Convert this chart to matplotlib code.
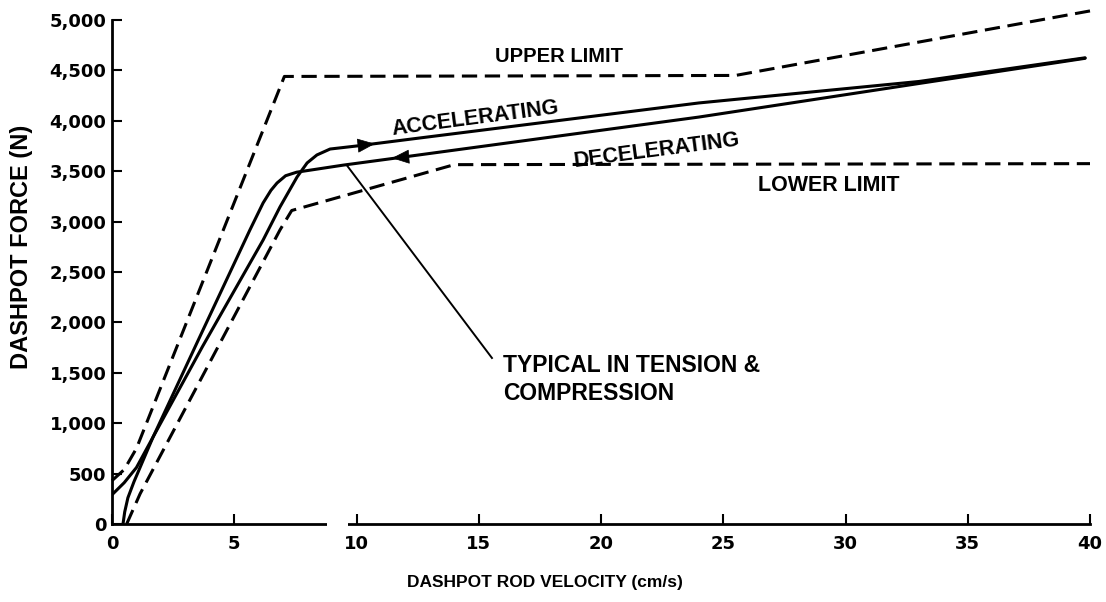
import matplotlib
matplotlib.use("Agg")
import matplotlib.pyplot as plt
from matplotlib.patches import Rectangle
from matplotlib.ticker import FuncFormatter

plt.rcParams['font.family'] = ['Liberation Sans', 'DejaVu Sans']
plt.rcParams['font.weight'] = 'bold'

# dashpot rod velocity (cm/s) vs dashpot force (N)
accel_v = [0.45, 0.52, 0.65, 0.9, 1.68, 3.7, 6.18, 6.87, 7.57, 7.98, 8.38, 8.92, 10.0, 12.6, 24.0, 33.0, 39.8]
accel_f = [0, 120, 260, 420, 863, 1760, 2817, 3145, 3443, 3582, 3661, 3720, 3750, 3830, 4177, 4390, 4625]

decel_v = [0.0, 0.5, 1.0, 1.68, 3.5, 5.64, 6.18, 6.5, 6.75, 7.1, 7.55, 9.45, 11.9, 24.0, 33.0, 39.8]
decel_f = [290, 410, 560, 863, 1810, 2917, 3185, 3310, 3383, 3455, 3490, 3560, 3640, 4037, 4370, 4620]

upper_v = [0.0, 0.5, 1.0, 7.05, 25.5, 40.0]
upper_f = [430, 540, 750, 4440, 4450, 5090]

lower_v = [0.6, 1.15, 6.87, 7.35, 14.0, 40.0]
lower_f = [0, 300, 2917, 3110, 3565, 3575]

x_ticks = [0, 5, 10, 15, 20, 25, 30, 35, 40]
y_ticks = list(range(0, 5001, 500))

fig = plt.figure(figsize=(11.06, 6.02), dpi=100)
ax = fig.add_axes([112 / 1106, 78 / 602, 978 / 1106, 504 / 602])

dash = (0, (5, 2.5))
ax.plot(upper_v, upper_f, color='k', lw=2.2, linestyle=dash, clip_on=False)
ax.plot(lower_v, lower_f, color='k', lw=2.2, linestyle=dash)
ax.plot(accel_v, accel_f, color='k', lw=2.2, solid_capstyle='round')
ax.plot(decel_v, decel_f, color='k', lw=2.2, solid_capstyle='round')

# direction arrows on the curves
head = '-|>,head_length=1.15,head_width=0.47'
ax.annotate('', xy=(10.75, 3772), xytext=(10.0, 3752),
            arrowprops=dict(arrowstyle=head, color='k', lw=0.5, shrinkA=0, shrinkB=0, mutation_scale=10))
ax.annotate('', xy=(11.45, 3630), xytext=(12.2, 3645),
            arrowprops=dict(arrowstyle=head, color='k', lw=0.5, shrinkA=0, shrinkB=0, mutation_scale=10))

# leader line to the note
ax.plot([9.6, 15.54], [3560, 1647], color='k', lw=1.4)

ax.text(18.3, 4633, 'UPPER LIMIT', fontsize=14.5, ha='center', va='center')
ax.text(14.85, 4020, 'ACCELERATING', fontsize=15.5, ha='center', va='center', rotation=7.5)
ax.text(22.3, 3700, 'DECELERATING', fontsize=15.5, ha='center', va='center', rotation=7.5)
ax.text(29.3, 3363, 'LOWER LIMIT', fontsize=15.5, ha='center', va='center')
ax.text(15.99, 1690, 'TYPICAL IN TENSION &\nCOMPRESSION', fontsize=16.5,
        ha='left', va='top', linespacing=1.3)

ax.set_xlim(0, 40)
ax.set_ylim(0, 5000)
ax.set_xticks(x_ticks)
ax.set_yticks(y_ticks)
ax.yaxis.set_major_formatter(FuncFormatter(lambda v, pos: '{:,.0f}'.format(v)))

for s in ['top', 'right']:
    ax.spines[s].set_visible(False)
for s in ['left', 'bottom']:
    ax.spines[s].set_linewidth(2.0)

ax.tick_params(direction='in', length=7, width=1.5, labelsize=13)
ax.tick_params(axis='x', pad=8)
ax.tick_params(axis='y', pad=4)
for lab in ax.get_xticklabels() + ax.get_yticklabels():
    lab.set_family('DejaVu Sans')
    lab.set_fontweight('bold')

# break in the velocity axis
ax.add_patch(Rectangle((8.8, -60), 0.85, 120, transform=ax.transData,
                       facecolor='white', edgecolor='none', clip_on=False, zorder=5))

fig.text(22 / 1106, 1 - 247 / 602, 'DASHPOT FORCE (N)', rotation=90,
         ha='center', va='center', fontsize=17)
fig.text(545 / 1106, 1 - 582 / 602, 'DASHPOT ROD VELOCITY (cm/s)',
         ha='center', va='center', fontsize=12.5)

fig.savefig('out.png', dpi=100)
